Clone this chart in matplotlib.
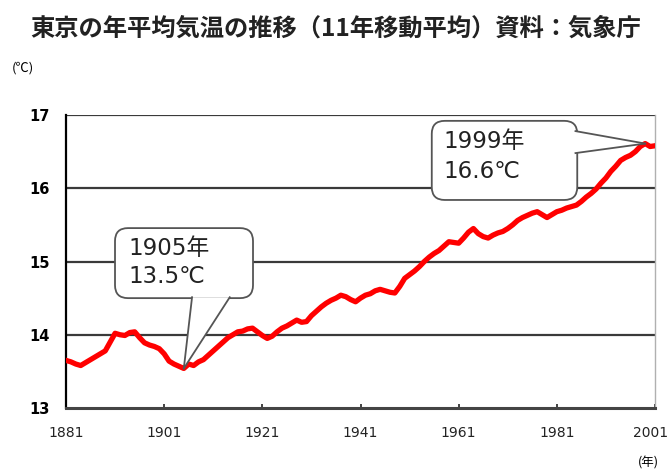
import matplotlib
matplotlib.use("Agg")
import matplotlib.pyplot as plt
import matplotlib.transforms as mtransforms
from matplotlib.patches import FancyBboxPatch, Polygon
import numpy as np

plt.rcParams['font.family'] = ['Noto Sans CJK JP', 'DejaVu Sans']

# 11-year moving average of Tokyo annual mean temperature (°C)
years = np.arange(1881, 2002)
temps = [
    13.65, 13.63, 13.60, 13.58, 13.62, 13.66, 13.70, 13.74, 13.78, 13.90,  # 1881-
    14.02, 14.00, 13.99, 14.03, 14.04, 13.96, 13.89, 13.86, 13.84, 13.81,  # 1891-
    13.74, 13.64, 13.60, 13.57, 13.54, 13.60, 13.58, 13.63, 13.66, 13.72,  # 1901-
    13.78, 13.84, 13.90, 13.96, 14.00, 14.04, 14.05, 14.08, 14.09, 14.04,  # 1911-
    13.99, 13.95, 13.98, 14.04, 14.09, 14.12, 14.16, 14.20, 14.17, 14.18,  # 1921-
    14.26, 14.32, 14.38, 14.43, 14.47, 14.50, 14.54, 14.52, 14.48, 14.45,  # 1931-
    14.50, 14.54, 14.56, 14.60, 14.62, 14.60, 14.58, 14.57, 14.66, 14.77,  # 1941-
    14.82, 14.87, 14.93, 15.00, 15.06, 15.11, 15.15, 15.21, 15.27, 15.26,  # 1951-
    15.25, 15.32, 15.40, 15.45, 15.38, 15.34, 15.32, 15.36, 15.39, 15.41,  # 1961-
    15.45, 15.50, 15.56, 15.60, 15.63, 15.66, 15.68, 15.64, 15.60, 15.64,  # 1971-
    15.68, 15.70, 15.73, 15.75, 15.77, 15.82, 15.88, 15.93, 15.99, 16.07,  # 1981-
    16.14, 16.23, 16.30, 16.38, 16.42, 16.45, 16.50, 16.57, 16.61, 16.57,  # 1991-
    16.58,                                                                 # 2001
]
x_ticks = [1881, 1901, 1921, 1941, 1961, 1981, 2001]
y_ticks = [13, 14, 15, 16, 17]

# highlighted points: (year, label temperature)
low_year, low_temp = 1905, 13.5
high_year, high_temp = 1999, 16.6

latin_first = ['DejaVu Sans', 'Noto Sans CJK JP']

fig = plt.figure(figsize=(6.72, 4.73), dpi=100)
ax = fig.add_axes([66 / 672, 1 - 408 / 473, 589 / 672, 293 / 473])

ax.plot(years, temps, color='#ff0000', lw=3.8, solid_joinstyle='round', zorder=3)

ax.set_xlim(1881, 2001)
ax.set_ylim(13, 17)
ax.set_xticks(x_ticks)
ax.set_yticks(y_ticks)
ax.tick_params(axis='x', direction='in', length=3, width=1.2, pad=13,
               labelsize=10, colors='#222222')
ax.tick_params(axis='y', length=0, pad=12, labelsize=10.5)
for t in ax.get_xticklabels():
    t.set_family(latin_first)
for t in ax.get_yticklabels():
    t.set_family(latin_first)
    t.set_fontweight('bold')
# keep the last year label inside the figure
last = ax.get_xticklabels()[-1]
last.set_transform(last.get_transform() +
                   mtransforms.ScaledTranslation(-4 / 100, 0, fig.dpi_scale_trans))

for y in y_ticks[1:]:
    ax.axhline(y, color='#3a3a3a', lw=1.6, zorder=1)
ax.spines['top'].set_visible(False)
ax.spines['right'].set_color('#b0b0b0')
ax.spines['right'].set_linewidth(1.0)
ax.spines['left'].set_linewidth(1.6)
ax.spines['bottom'].set_linewidth(2.2)
ax.spines['bottom'].set_color('#444444')

aspect = 589 / 293


def data_to_axes(x, y):
    return (x - 1881) / 120, (y - 13) / 4


def callout(x0, y0, x1, y1, base, tip, lines, text_x, text_ys):
    box = FancyBboxPatch((x0, y0), x1 - x0, y1 - y0,
                         boxstyle='round,pad=0,rounding_size=0.022',
                         mutation_aspect=aspect, transform=ax.transAxes,
                         fc='white', ec='#555555', lw=1.3, zorder=5)
    ax.add_patch(box)
    (bx0, by0), (bx1, by1) = base
    # white wedge hides the box border where the pointer attaches
    wedge = Polygon([(bx0, by0), tip, (bx1, by1)], closed=True,
                    transform=ax.transAxes, fc='white', ec='none', zorder=6)
    ax.add_patch(wedge)
    for bx, by in base:
        ax.plot([bx, tip[0]], [by, tip[1]], transform=ax.transAxes,
                color='#555555', lw=1.3, zorder=7)
    for s, ty in zip(lines, text_ys):
        ax.text(text_x, ty, s, transform=ax.transAxes, fontsize=16.5,
                family=latin_first, ha='left', va='center',
                color='#222222', zorder=8)


# low point callout (pointer goes down from the bottom edge)
callout(0.0832, 0.375, 0.3175, 0.614,
        base=[(0.214, 0.378), (0.278, 0.378)],
        tip=data_to_axes(low_year, 13.54),
        lines=[f'{low_year}年', f'{low_temp}℃'],
        text_x=0.106, text_ys=[0.543, 0.450])

# high point callout (pointer goes right from the right edge)
callout(0.621, 0.710, 0.868, 0.980,
        base=[(0.865, 0.945), (0.865, 0.870)],
        tip=data_to_axes(high_year, 16.61),
        lines=[f'{high_year}年', f'{high_temp}℃'],
        text_x=0.640, text_ys=[0.909, 0.806])

fig.text(336 / 672, 1 - 29 / 473,
         '東京の年平均気温の推移（11年移動平均）資料：気象庁',
         ha='center', va='center', fontsize=17.5, fontweight='bold',
         color='#222222')
fig.text(12 / 672, 1 - 68 / 473, '(℃)', ha='left', va='center', fontsize=9.5)
fig.text(648 / 672, 1 - 463 / 473, '(年)', ha='center', va='center', fontsize=9)

fig.savefig('out.png', dpi=100, facecolor='white')
